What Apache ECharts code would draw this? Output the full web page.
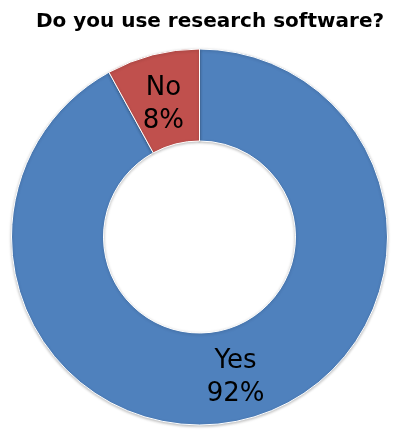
<!DOCTYPE html>
<html>
<head>
<meta charset="utf-8">
<script src="https://cdn.jsdelivr.net/npm/echarts@6/dist/echarts.min.js"></script>
<style>
  html, body { margin: 0; padding: 0; background: #fff; }
  #chart { width: 393px; height: 432px; }
</style>
</head>
<body>
<div id="chart"></div>
<script>
// Survey answers and their shares (percent)
const answers = ['Yes', 'No'];
const shares = [92, 8];
const sliceColors = ['#4F81BD', '#C0504D'];

const chart = echarts.init(document.getElementById('chart'));

chart.setOption({
  animation: false,
  title: {
    text: 'Do you use research software?',
    left: 205,
    textAlign: 'center',
    top: 7,
    textStyle: {
      fontFamily: 'DejaVu Sans',
      fontWeight: 'bold',
      fontSize: 20,
      color: '#000'
    }
  },
  series: [{
    type: 'pie',
    center: [199.5, 237],
    radius: [96, 188],
    startAngle: 90,
    clockwise: true,
    itemStyle: {
      borderColor: '#fff',
      borderWidth: 1,
      shadowBlur: 3,
      shadowColor: 'rgba(0,0,0,0.25)',
      shadowOffsetY: 1
    },
    label: {
      show: true,
      position: 'inside',
      formatter: p => p.name + '\n' + p.value + '%',
      fontFamily: 'DejaVu Sans',
      fontSize: 26,
      lineHeight: 33,
      color: '#000'
    },
    // the small slice's text sits a little lower in the ring
    labelLayout: p => (p.dataIndex === 1 ? { dy: 8 } : {}),
    labelLine: { show: false },
    emphasis: { disabled: true },
    data: answers.map((name, i) => ({
      name: name,
      value: shares[i],
      itemStyle: { color: sliceColors[i] }
    }))
  }]
});
</script>
</body>
</html>
